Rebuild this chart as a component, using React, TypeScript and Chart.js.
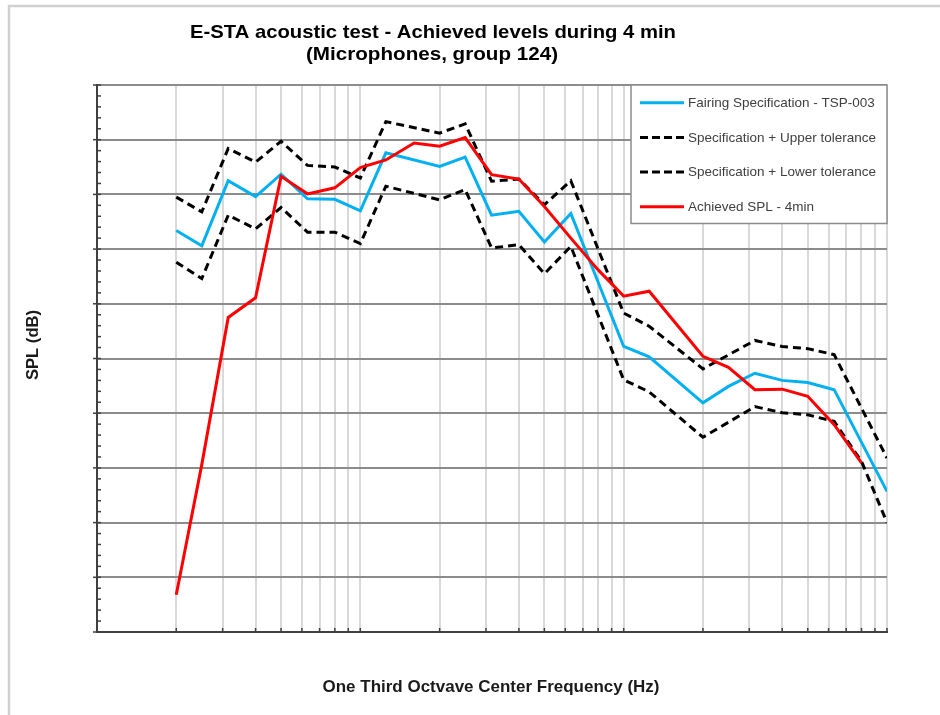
import React, { useEffect, useRef } from "react";
import { Chart, registerables } from "chart.js";

Chart.register(...registerables);

// One-third octave centre frequencies (Hz)
const frequencies = [20, 25, 31.5, 40, 50, 63, 80, 100, 125, 160, 200, 250, 315, 400, 500, 630, 800, 1000, 1250, 1600, 2000, 2500, 3150, 4000, 5000, 6300, 8000, 10000];

// SPL values (dB); null = no break point in that series
const specTSP003 = [113.4, 110.6, 122.5, 119.6, 123.7, 119.2, 119.1, 117.0, 127.6, null, 125.1, 126.8, 116.2, 116.9, 111.3, 116.5, null, 92.2, 90.3, null, 81.9, 84.9, 87.3, 86.0, 85.6, 84.3, null, 65.7];
const upperTolerance = [119.5, 116.8, 128.4, 125.9, 129.7, 125.3, 125.0, 123.0, 133.3, null, 131.2, 132.9, 122.4, 122.8, 118.1, 122.5, null, 98.3, 95.9, null, 88.1, null, 93.3, 92.2, 91.8, 90.7, null, 71.8];
const lowerTolerance = [107.6, 104.6, 116.2, 113.7, 117.6, 113.1, 113.1, 111.0, 121.5, null, 119.0, 120.9, 110.2, 110.8, 105.5, 110.5, null, 86.1, 83.9, null, 75.6, null, 81.2, 80.1, 79.7, 78.5, 71.2, 60.0];
const achievedSPL = [46.8, 70.6, 97.5, 101.1, 123.3, 120.1, 121.2, 124.9, 126.3, 129.4, 128.8, 130.4, 123.6, 122.8, 117.8, 112.0, 106.2, 101.4, 102.3, null, 90.4, 88.4, 84.3, 84.4, 83.1, 77.9, 70.9, null];

// Axis settings
const xMin = 10;
const xMax = 10000;
const gridFrequencies = [10, 20, 30, 40, 50, 60, 70, 80, 90, 100, 200, 300, 400, 500, 600, 700, 800, 900, 1000, 2000, 3000, 4000, 5000, 6000, 7000, 8000, 9000, 10000];
const yMin = 40;
const yMax = 140;
const yStep = 10;
const yMinorStep = 2;

const titleLine1 = "E-STA acoustic test - Achieved levels during 4 min";
const titleLine2 = "(Microphones, group 124)";
const xTitle = "One Third Octvave Center Frequency (Hz)";
const yTitle = "SPL (dB)";

const legendItems = [
  { label: "Fairing Specification - TSP-003", color: "#00B0F0", dash: [] as number[] },
  { label: "Specification + Upper tolerance", color: "#000000", dash: [8, 4] },
  { label: "Specification + Lower tolerance", color: "#000000", dash: [8, 4] },
  { label: "Achieved SPL - 4min", color: "#FF0000", dash: [] as number[] },
];

const toPoints = (vals: (number | null)[]) => frequencies.map((f, i) => ({ x: f, y: vals[i] }));

function fittedText(ctx: CanvasRenderingContext2D, text: string, cx: number, baseY: number, font: string, width: number) {
  ctx.save();
  ctx.font = font;
  const w = ctx.measureText(text).width;
  ctx.translate(cx, baseY);
  ctx.scale(width / w, 1);
  ctx.textAlign = "center";
  ctx.textBaseline = "alphabetic";
  ctx.fillText(text, 0, 0);
  ctx.restore();
}

const overlayPlugin = {
  id: "overlay",
  afterDraw(chart: any) {
    const ctx: CanvasRenderingContext2D = chart.ctx;
    const { left, bottom } = chart.chartArea;
    const xs = chart.scales.x;
    const ys = chart.scales.y;
    ctx.save();

    // outer frame
    ctx.strokeStyle = "#d0d0d0";
    ctx.lineWidth = 2.5;
    ctx.strokeRect(9, 6, 980, 760);

    // y tick marks
    ctx.strokeStyle = "#404040";
    ctx.lineWidth = 1.5;
    const n = Math.round((yMax - yMin) / yMinorStep);
    for (let i = 0; i <= n; i++) {
      const v = yMin + i * yMinorStep;
      const y = ys.getPixelForValue(v);
      const major = (i * yMinorStep) % yStep === 0;
      ctx.beginPath();
      ctx.moveTo(major ? left - 4 : left, y);
      ctx.lineTo(left + 4, y);
      ctx.stroke();
    }
    // x tick marks
    for (const f of gridFrequencies) {
      const x = xs.getPixelForValue(f);
      ctx.beginPath();
      ctx.moveTo(x, bottom);
      ctx.lineTo(x, bottom - 4);
      ctx.stroke();
    }

    // legend
    const lx = 631, ly = 85, lw = 256, lh = 138.5;
    ctx.fillStyle = "#ffffff";
    ctx.fillRect(lx, ly, lw, lh);
    ctx.strokeStyle = "#8c8c8c";
    ctx.lineWidth = 1.5;
    ctx.strokeRect(lx, ly, lw, lh);
    legendItems.forEach((item, i) => {
      const y = 102.7 + i * 34.7;
      ctx.save();
      ctx.strokeStyle = item.color;
      ctx.lineWidth = 3;
      ctx.setLineDash(item.dash);
      ctx.beginPath();
      ctx.moveTo(640, y);
      ctx.lineTo(684, y);
      ctx.stroke();
      ctx.restore();
      ctx.fillStyle = "#404040";
      ctx.font = "13.5px 'Liberation Sans', Arial, sans-serif";
      ctx.textAlign = "left";
      ctx.textBaseline = "middle";
      ctx.fillText(item.label, 688, y + 0.5);
    });

    // titles
    ctx.fillStyle = "#000000";
    fittedText(ctx, titleLine1, 433, 38, "bold 19px 'Liberation Sans', Arial, sans-serif", 486);
    fittedText(ctx, titleLine2, 432, 60, "bold 19px 'Liberation Sans', Arial, sans-serif", 252);
    ctx.fillStyle = "#1a1a1a";
    fittedText(ctx, xTitle, 491, 692, "bold 17px 'Liberation Sans', Arial, sans-serif", 337);
    ctx.save();
    ctx.translate(38, 345);
    ctx.rotate(-Math.PI / 2);
    fittedText(ctx, yTitle, 0, 0, "bold 17px 'Liberation Sans', Arial, sans-serif", 70);
    ctx.restore();

    ctx.restore();
  },
};

export default function App() {
  const canvasRef = useRef<HTMLCanvasElement | null>(null);

  useEffect(() => {
    if (!canvasRef.current) return;
    const chart = new Chart(canvasRef.current, {
      type: "line",
      data: {
        datasets: [
          {
            label: legendItems[0].label,
            data: toPoints(specTSP003) as any,
            borderColor: "#00B0F0",
            borderWidth: 3,
            pointRadius: 0,
            spanGaps: true,
            tension: 0,
            order: 4,
          },
          {
            label: legendItems[1].label,
            data: toPoints(upperTolerance) as any,
            borderColor: "#000000",
            borderWidth: 3,
            borderDash: [8, 5],
            pointRadius: 0,
            spanGaps: true,
            tension: 0,
            order: 3,
          },
          {
            label: legendItems[2].label,
            data: toPoints(lowerTolerance) as any,
            borderColor: "#000000",
            borderWidth: 3,
            borderDash: [8, 5],
            pointRadius: 0,
            spanGaps: true,
            tension: 0,
            order: 2,
          },
          {
            label: legendItems[3].label,
            data: toPoints(achievedSPL) as any,
            borderColor: "#FF0000",
            borderWidth: 3,
            pointRadius: 0,
            spanGaps: true,
            tension: 0,
            order: 1,
          },
        ],
      },
      options: {
        animation: false,
        responsive: false,
        devicePixelRatio: 1,
        layout: { padding: { left: 97, right: 53, top: 85, bottom: 83 } },
        plugins: {
          legend: { display: false },
          title: { display: false },
          tooltip: { enabled: false },
        },
        scales: {
          x: {
            type: "logarithmic",
            min: xMin,
            max: xMax,
            afterBuildTicks: (scale: any) => {
              scale.ticks = gridFrequencies.map((v) => ({ value: v }));
            },
            ticks: { display: false },
            grid: { color: "#d9d9d9", lineWidth: 2, drawTicks: false },
            border: { display: true, color: "#404040", width: 2 },
          },
          y: {
            type: "linear",
            min: yMin,
            max: yMax,
            ticks: { display: false, stepSize: yStep },
            grid: { color: "#8c8c8c", lineWidth: 2, drawTicks: false },
            border: { display: true, color: "#404040", width: 2 },
          },
        },
      },
      plugins: [overlayPlugin],
    });
    return () => chart.destroy();
  }, []);

  return (
    <div style={{ position: "absolute", left: 0, top: 0, width: 940, height: 715, background: "#ffffff" }}>
      <canvas ref={canvasRef} width={940} height={715} />
    </div>
  );
}
